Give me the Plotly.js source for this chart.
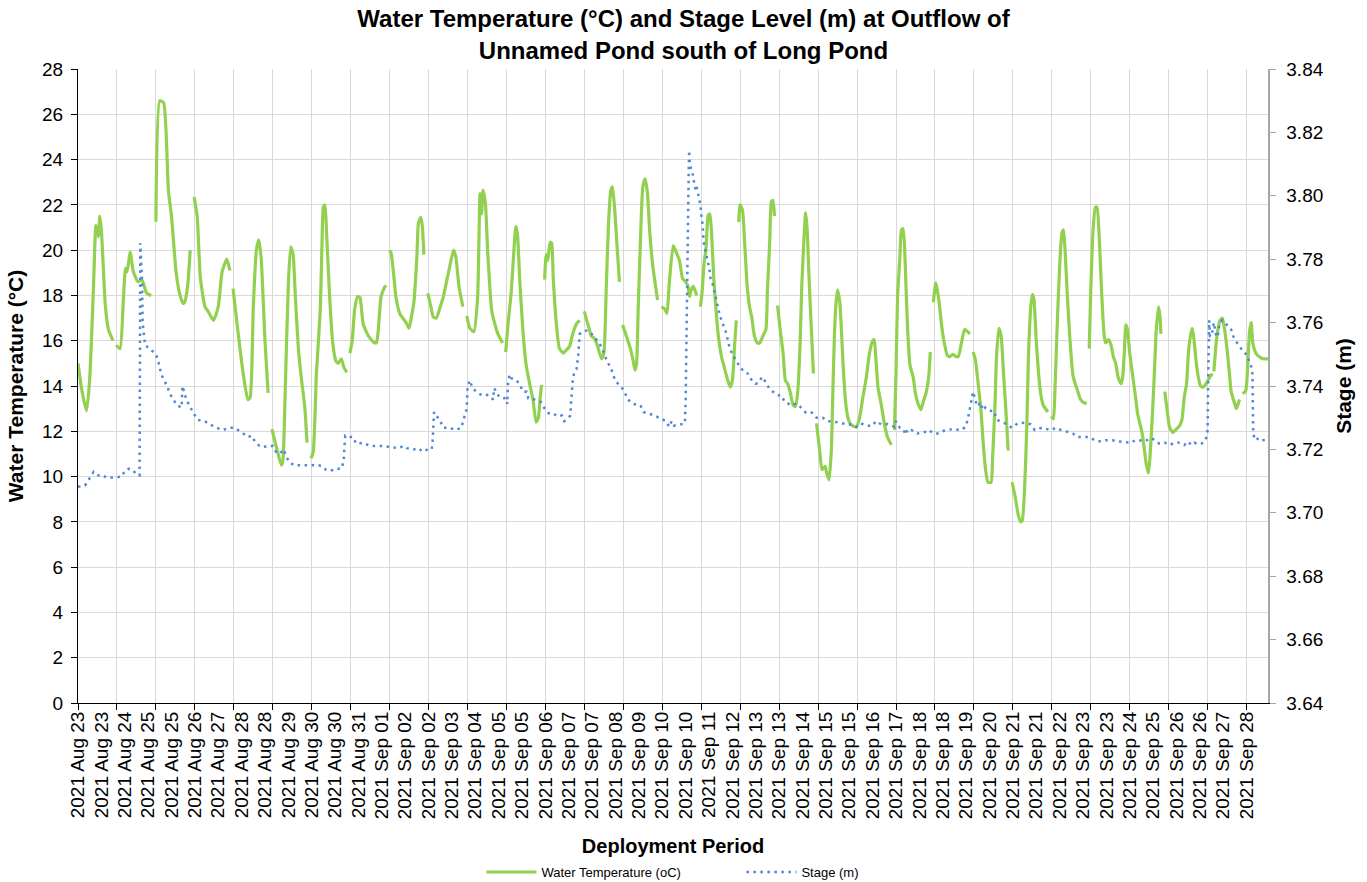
<!DOCTYPE html>
<html>
<head>
<meta charset="utf-8">
<script src="https://cdn.plot.ly/plotly-3.0.1.min.js"></script>
<style>html,body{margin:0;padding:0;background:#fff;}#chart{width:1367px;height:882px;}</style>
</head>
<body>
<div id="chart"></div>
<script>
// Category labels shown under the axis (one every 3 readings)
const xLabels = ["2021 Aug 23","2021 Aug 23","2021 Aug 24","2021 Aug 25","2021 Aug 25","2021 Aug 26","2021 Aug 27","2021 Aug 28","2021 Aug 28","2021 Aug 29","2021 Aug 30","2021 Aug 30","2021 Aug 31",
"2021 Sep 01","2021 Sep 02","2021 Sep 02","2021 Sep 03","2021 Sep 04","2021 Sep 05","2021 Sep 05","2021 Sep 06","2021 Sep 07","2021 Sep 07","2021 Sep 08","2021 Sep 09","2021 Sep 10","2021 Sep 10","2021 Sep 11","2021 Sep 12","2021 Sep 13","2021 Sep 13",
"2021 Sep 14","2021 Sep 15","2021 Sep 15","2021 Sep 16","2021 Sep 17","2021 Sep 18","2021 Sep 18","2021 Sep 19","2021 Sep 20","2021 Sep 21","2021 Sep 21","2021 Sep 22","2021 Sep 23","2021 Sep 23","2021 Sep 24","2021 Sep 25","2021 Sep 26","2021 Sep 26","2021 Sep 27","2021 Sep 28"];

// Water temperature (°C): reading index and value, null = logger gap
const tempObs = [
0,0.5,1.1,1.5,2.0,2.3,2.6,2.8,3.0,3.5,3.9,4.5,null,
4.9,5.4,5.8,6.1,6.3,6.7,7.1,7.7,8.2,8.8,9.4,null,
10.0,10.5,11.0,11.6,12.0,12.6,13.1,13.5,13.7,14.1,14.4,null,
14.9,15.3,15.7,16.3,16.7,17.4,18.0,18.5,19.1,19.5,null,
19.9,20.5,21.2,21.8,22.1,22.5,22.9,23.2,23.5,24.0,24.4,null,
24.9,25.5,26.1,26.3,26.6,27.0,27.3,27.6,27.9,28.3,28.7,29.1,29.4,null,
29.9,30.2,30.6,31.1,31.3,31.5,31.7,31.9,32.3,32.7,33.1,33.4,33.8,34.1,34.5,null,
34.9,35.2,35.5,35.9,36.2,36.6,37.3,37.9,38.3,38.5,38.9,39.2,39.5,null,
40.0,40.2,40.5,40.8,41.3,41.8,42.2,42.5,42.8,43.1,43.5,43.7,44.0,44.2,44.4,null,
44.9,45.3,45.6,46.0,46.5,46.9,47.3,47.7,48.2,48.5,48.9,49.4,null,
49.9,50.3,50.8,51.3,51.6,51.8,52.0,52.3,52.6,53.1,53.5,53.9,54.5,null,
54.9,55.2,55.6,55.9,56.2,56.4,56.7,57.1,57.5,58.0,58.4,58.8,59.1,59.3,59.5,null,
59.9,60.1,60.3,60.6,60.8,61.0,61.4,61.8,62.3,62.7,63.1,63.5,64.0,64.4,null,
65.0,65.3,65.6,65.9,66.3,66.7,67.2,67.5,67.8,68.1,68.4,68.6,68.9,69.2,69.5,null,
69.9,70.4,70.9,71.3,71.5,71.7,71.9,72.2,72.5,72.8,73.1,73.4,73.8,74.1,74.4,null,
74.9,75.3,75.6,75.9,76.4,76.8,77.2,77.6,78.0,78.3,78.5,78.7,79.0,79.4,null,
79.9,80.1,80.4,80.6,80.9,81.1,81.3,81.6,81.9,82.2,82.6,82.9,83.2,83.7,84.0,84.3,84.5,null,
84.8,85.0,85.3,85.6,85.9,86.2,86.5,86.8,87.2,87.5,87.9,88.3,88.5,88.8,89.0,89.2,89.4,null,
89.8,90.1,90.5,90.8,91.1,91.4,91.8,92.1,92.4,92.7,92.9,93.2,93.4,93.6,93.8,94.1,94.4,null,
94.8,95.2,95.5,95.9,96.1,96.4,96.7,96.9,97.1,97.3,97.5,97.8,98.2,98.5,98.8,99.1,99.4,99.9,100.3,100.7,101.2,101.6,102.0,102.2,102.4,102.7,103.1,103.5,103.9,104.4,null,
104.8,105.0,105.2,105.5,105.7,105.9,106.1,106.3,106.5,106.8,107.2,107.5,107.8,108.2,108.5,108.9,109.2,109.4,null,
109.8,110.1,110.3,110.6,110.9,111.2,111.6,111.9,112.3,112.7,113.0,113.4,113.8,114.2,114.5,null,
114.9,115.2,115.5,115.9,116.2,116.5,116.8,117.2,117.4,117.7,117.9,118.2,118.5,118.8,119.1,119.4,null,
119.9,120.3,120.7,121.0,121.2,121.5,121.8,122.0,122.3,122.5,122.7,123.0,123.3,123.6,123.9,124.5,null,
124.9,125.2,125.4,125.7,126.0,126.3,126.5,126.7,127.0,127.3,127.7,128.0,128.3,128.7,129.2,129.5,null,
129.8,130.0,130.3,130.6,130.8,131.1,131.4,131.7,131.9,132.3,132.6,132.9,133.2,133.5,133.9,134.1,134.3,134.5,134.7,135.0,135.4,135.7,136.0,136.3,136.6,136.9,137.1,137.4,137.6,137.9,138.2,138.4,138.7,138.9,139.0,null,
139.5,139.8,140.1,140.5,141.0,141.4,141.7,142.0,142.3,142.5,142.7,143.0,143.2,143.5,143.8,144.1,144.4,144.8,145.3,145.6,null,
145.8,146.1,146.3,146.6,146.9,147.2,147.5,147.8,148.0,148.4,148.7,149.0,149.1,null,
149.5,149.9,150.2,150.4,150.6,150.8,151.2,151.6,152.1,152.8
];
const tempC = [
15.0,13.8,12.9,14.3,18.5,21.1,20.6,21.5,20.9,17.6,16.5,16.0,null,
15.8,15.65,17.65,19.2,19.05,19.9,19.05,18.6,18.7,18.1,18.0,null,
21.25,26.6,26.5,22.65,21.5,19.0,18.0,17.65,17.7,18.5,20.0,null,
22.35,21.5,18.8,17.5,17.3,16.9,17.5,19.05,19.6,19.1,null,
18.3,16.5,14.55,13.4,13.5,17.5,20.0,20.45,19.7,16.0,13.7,null,
12.1,11.25,10.5,10.7,13.8,18.5,20.15,19.85,17.95,15.6,14.25,13.1,11.5,null,
10.8,11.1,14.55,17.35,20.0,21.9,22.0,20.8,17.95,15.9,15.1,15.0,15.2,14.85,14.6,null,
15.45,16.0,17.35,17.95,17.9,16.75,16.2,15.95,15.9,16.3,17.95,18.25,18.45,null,
20.0,19.85,19.0,17.95,17.2,16.95,16.75,16.55,17.05,17.65,19.7,21.2,21.45,21.05,19.8,null,
18.1,17.5,17.05,17.0,17.5,17.95,18.6,19.25,20.0,19.7,18.4,17.5,null,
17.1,16.55,16.4,17.95,22.5,21.6,22.65,22.05,19.85,17.35,16.75,16.3,15.9,null,
15.5,16.75,18.1,19.7,21.05,20.75,18.7,16.5,15.0,14.05,13.4,12.4,12.6,13.4,14.05,null,
18.7,19.8,19.55,20.35,20.3,18.8,16.75,15.65,15.45,15.6,15.75,16.3,16.75,16.9,null,
17.3,16.9,16.55,16.2,16.1,15.75,15.2,15.45,18.25,21.2,22.65,22.8,21.75,20.15,18.6,null,
16.7,16.2,15.65,15.05,14.7,15.0,17.35,20.45,22.8,23.15,22.5,20.75,19.25,18.5,17.8,null,
17.5,17.4,17.2,18.55,20.2,19.9,19.55,18.75,18.6,18.4,17.95,18.25,18.4,18.0,null,
17.5,18.1,19.55,20.0,21.55,21.6,20.9,18.8,17.35,16.2,15.3,14.9,14.5,13.95,14.25,15.9,16.9,null,
21.25,22.0,21.75,20.15,18.4,17.5,17.0,16.25,15.9,15.9,16.2,16.5,18.25,20.45,22.15,22.2,21.5,null,
17.55,16.6,15.45,14.25,14.1,13.75,13.15,13.1,13.8,16.0,18.4,20.6,21.65,20.9,19.1,16.75,14.55,null,
12.35,11.15,10.3,10.45,10.15,9.85,11.15,13.8,16.3,17.65,18.25,17.65,15.0,13.4,12.65,12.35,12.25,12.2,12.55,13.4,14.4,15.45,16.0,16.05,15.3,13.9,13.2,12.35,11.75,11.4,null,
12.05,14.55,17.95,19.7,20.9,20.95,20.15,18.25,16.45,14.9,14.4,13.65,13.25,12.95,13.3,13.75,14.4,15.5,null,
17.7,18.55,18.25,17.5,16.55,15.9,15.35,15.3,15.4,15.3,15.3,15.9,16.5,16.4,16.3,null,
15.5,15.15,14.25,12.95,11.45,10.3,9.75,9.75,10.85,13.1,15.3,16.55,16.2,14.55,12.95,11.15,null,
9.75,9.1,8.3,8.0,8.05,9.4,12.35,15.3,17.5,18.05,17.85,16.0,14.55,13.6,13.15,12.85,null,
12.65,12.55,13.8,16.75,19.25,20.75,20.9,20.0,17.95,16.2,14.5,14.1,13.8,13.4,13.25,13.25,null,
15.65,18.25,20.9,21.9,21.9,20.45,18.1,16.3,15.9,16.05,15.8,15.3,15.0,14.4,14.1,14.4,15.45,16.7,16.5,15.45,14.4,13.65,12.8,12.35,11.9,11.15,10.6,10.15,10.85,12.65,14.85,16.45,17.5,17.05,16.3,null,
13.75,12.95,12.2,11.95,12.1,12.25,12.5,13.5,14.1,15.3,16.0,16.55,16.2,15.15,14.4,14.0,13.95,14.1,14.4,14.55,null,
14.65,15.9,16.45,16.9,17.0,16.45,15.6,14.55,13.8,13.3,13.0,13.3,13.4,null,
13.65,13.8,15.3,16.45,16.8,15.9,15.45,15.3,15.2,15.2
];

// Stage (m): reading index and value
const stageObs = [
0,0.9,2.0,2.6,3.0,3.7,4.5,5.6,6.0,6.5,
7.0,7.5,7.9,8.0,8.2,8.3,8.6,9.2,10.0,10.3,
10.7,11.5,11.8,12.3,12.7,13.3,13.4,13.7,13.9,14.9,
15.4,16.3,16.9,17.8,18.6,19.4,20.1,21.0,21.8,22.3,
22.7,23.3,23.8,24.2,25.0,25.4,25.9,26.4,26.7,27.1,
27.7,28.7,29.3,30.0,30.9,31.4,31.8,32.4,33.0,33.8,
34.1,34.2,34.3,34.7,35.3,35.7,36.6,37.5,38.5,39.4,
40.0,41.1,41.8,42.2,43.1,43.7,44.2,44.9,45.4,45.5,
45.6,45.7,46.0,46.5,46.9,47.7,48.5,49.2,49.9,50.0,
50.3,50.6,51.1,51.8,52.2,52.7,53.3,53.4,53.7,54.1,
55.0,55.1,55.2,55.4,55.6,56.3,56.8,57.1,57.6,57.8,
58.4,58.6,59.4,59.9,60.4,61.0,61.5,62.1,62.4,62.8,
63.2,63.3,63.5,63.7,64.0,64.2,64.3,64.4,64.8,65.3,
65.7,66.2,66.8,67.3,67.6,68.0,68.5,68.9,69.4,70.0,
70.6,71.3,72.2,72.6,73.2,73.7,74.2,74.9,75.5,75.9,
76.2,76.5,77.0,77.4,77.9,78.0,78.1,78.2,78.3,78.4,
78.45,78.5,78.7,79.0,79.1,79.3,79.4,79.9,80.0,80.2,
80.3,80.5,80.7,81.0,81.2,81.5,81.7,81.9,82.3,82.6,
82.9,83.2,83.6,84.1,84.5,84.9,85.6,86.0,86.4,87.0,
87.4,87.8,88.3,88.7,89.2,89.8,90.3,90.7,91.1,91.5,
92.0,92.4,92.8,93.5,94.2,94.8,95.6,96.2,96.9,97.5,
98.2,98.8,99.4,99.9,100.5,101.2,101.7,102.0,102.4,103.1,
103.9,104.8,105.0,105.5,106.0,106.2,106.5,107.0,107.7,108.2,
108.6,109.2,109.9,110.3,110.8,111.3,112.1,112.5,112.9,113.4,
113.9,114.2,114.9,115.2,115.4,115.7,115.9,116.2,116.5,117.2,
117.6,117.8,118.0,118.3,119.0,119.9,120.6,121.5,122.3,122.8,
123.7,124.9,125.5,126.2,126.6,127.2,127.7,128.3,129.2,129.8,
130.5,131.3,131.9,132.8,133.5,134.1,134.7,135.2,135.7,136.2,
136.9,137.7,138.3,138.8,139.5,140.1,140.8,141.2,142.0,142.5,
142.9,143.3,143.9,144.5,144.8,145.0,145.05,145.1,145.2,145.3,
145.5,145.8,146.1,146.3,146.5,146.9,147.4,148.0,148.3,148.7,
149.5,150.1,150.4,150.6,150.75,150.85,151.1,151.6,152.0,152.5
];
const stageM = [
3.7082,3.7086,3.7129,3.7118,3.7120,3.7111,3.7111,3.7114,3.7132,3.7139,
3.7136,3.7121,3.7118,3.7850,3.7743,3.7600,3.7529,3.7518,3.7500,3.7479,
3.7436,3.7396,3.7375,3.7357,3.7339,3.7332,3.7400,3.7375,3.7357,3.7311,
3.7293,3.7289,3.7279,3.7268,3.7261,3.7268,3.7268,3.7254,3.7239,3.7243,
3.7225,3.7211,3.7207,3.7210,3.7211,3.7193,3.7186,3.7200,3.7179,3.7161,
3.7150,3.7150,3.7150,3.7150,3.7150,3.7146,3.7136,3.7132,3.7139,3.7139,
3.7161,3.7207,3.7243,3.7239,3.7239,3.7218,3.7221,3.7211,3.7211,3.7211,
3.7207,3.7204,3.7211,3.7204,3.7200,3.7204,3.7193,3.7200,3.7200,3.7218,
3.7264,3.7318,3.7307,3.7289,3.7268,3.7268,3.7261,3.7268,3.7329,3.7396,
3.7418,3.7396,3.7382,3.7371,3.7373,3.7371,3.7357,3.7393,3.7382,3.7364,
3.7361,3.7343,3.7407,3.7436,3.7425,3.7418,3.7400,3.7382,3.7382,3.7361,
3.7359,3.7357,3.7350,3.7329,3.7314,3.7314,3.7304,3.7307,3.7289,3.7296,
3.7307,3.7350,3.7418,3.7443,3.7454,3.7493,3.7536,3.7564,3.7571,3.7575,
3.7571,3.7557,3.7539,3.7518,3.7496,3.7475,3.7450,3.7421,3.7404,3.7389,
3.7357,3.7343,3.7339,3.7318,3.7311,3.7310,3.7304,3.7296,3.7289,3.7271,
3.7289,3.7275,3.7279,3.7279,3.7282,3.7350,3.7493,3.7704,3.7914,3.8093,
3.8143,3.8114,3.8082,3.8061,3.8036,3.8018,3.8029,3.7971,3.7943,3.7904,
3.7854,3.7832,3.7807,3.7775,3.7739,3.7718,3.7696,3.7671,3.7632,3.7607,
3.7586,3.7568,3.7525,3.7493,3.7482,3.7461,3.7443,3.7439,3.7421,3.7407,
3.7411,3.7429,3.7411,3.7393,3.7382,3.7371,3.7370,3.7350,3.7346,3.7339,
3.7343,3.7343,3.7332,3.7314,3.7316,3.7300,3.7300,3.7289,3.7288,3.7286,
3.7282,3.7279,3.7278,3.7271,3.7282,3.7275,3.7275,3.7275,3.7289,3.7279,
3.7280,3.7271,3.7289,3.7268,3.7261,3.7246,3.7264,3.7261,3.7250,3.7252,
3.7254,3.7261,3.7250,3.7250,3.7254,3.7261,3.7264,3.7264,3.7262,3.7261,
3.7271,3.7293,3.7382,3.7357,3.7336,3.7343,3.7329,3.7343,3.7329,3.7321,
3.7321,3.7304,3.7293,3.7289,3.7282,3.7268,3.7282,3.7284,3.7279,3.7261,
3.7268,3.7261,3.7268,3.7261,3.7259,3.7254,3.7250,3.7239,3.7239,3.7239,
3.7229,3.7225,3.7229,3.7229,3.7225,3.7223,3.7221,3.7221,3.7229,3.7229,
3.7225,3.7236,3.7229,3.7218,3.7221,3.7214,3.7221,3.7222,3.7214,3.7225,
3.7214,3.7221,3.7216,3.7221,3.7236,3.7261,3.7389,3.7493,3.7607,3.7557,
3.7557,3.7600,3.7557,3.7554,3.7596,3.7607,3.7593,3.7579,3.7557,3.7539,
3.7511,3.7496,3.7471,3.7461,3.7439,3.7250,3.7229,3.7236,3.7229,3.7230
];

const labelEvery = 3;   // one axis label every 3 readings
const gridEvery = 5;    // one tick/gridline every 5 readings
const xMax = 152.75;

const FONT = '"Liberation Sans", Arial, Helvetica, sans-serif';

const traces = [
  {
    x: tempObs, y: tempC, name: 'Water Temperature (oC)',
    type: 'scatter', mode: 'lines', connectgaps: false,
    line: {color: '#92D050', width: 3.2, shape: 'spline', smoothing: 0.5},
    xaxis: 'x', yaxis: 'y', hoverinfo: 'skip'
  },
  {
    x: stageObs, y: stageM, name: 'Stage (m)',
    type: 'scatter', mode: 'lines',
    line: {color: '#4F88D8', width: 2.5, dash: '2.5px,4.5px'},
    xaxis: 'x2', yaxis: 'y2', hoverinfo: 'skip'
  }
];

const layout = {
  width: 1367, height: 882,
  margin: {l: 78, r: 99, t: 69, b: 179, autoexpand: false},
  paper_bgcolor: '#ffffff', plot_bgcolor: '#ffffff',
  font: {family: FONT, color: '#000000', size: 19},
  title: {
    text: '<b>Water Temperature (°C) and Stage Level (m) at Outflow of<br>Unnamed Pond south of Long Pond</b>',
    x: 0.5, xref: 'container', xanchor: 'center',
    y: 0.969, yref: 'container', yanchor: 'top',
    font: {family: FONT, size: 24, color: '#000'}
  },
  xaxis: {
    range: [0, xMax], tickmode: 'array',
    tickvals: xLabels.map((_, i) => i * labelEvery), ticktext: xLabels,
    tickangle: -90, ticks: '', showgrid: false, zeroline: false,
    showline: true, linecolor: '#000', linewidth: 1,
    tickfont: {family: FONT, size: 19, color: '#000'},
    title: {text: '<b>Deployment Period</b>', font: {family: FONT, size: 20, color: '#000'}, standoff: 22},
    automargin: false, fixedrange: true
  },
  xaxis2: {
    overlaying: 'x', anchor: 'y', side: 'bottom',
    range: [0, xMax], tickmode: 'linear', tick0: 0, dtick: gridEvery,
    ticks: 'outside', ticklen: 6, tickcolor: '#000', tickwidth: 1,
    showticklabels: false, showgrid: true, gridcolor: '#d9d9d9', gridwidth: 1,
    zeroline: false, showline: false, automargin: false, fixedrange: true
  },
  yaxis: {
    range: [0, 28], tickmode: 'linear', tick0: 0, dtick: 2,
    ticks: 'outside', ticklen: 6, tickcolor: '#000',
    showline: true, linecolor: '#000', linewidth: 1,
    showgrid: true, gridcolor: '#d9d9d9', gridwidth: 1, zeroline: false,
    tickfont: {family: FONT, size: 19, color: '#000'}, ticklabelstandoff: 4,
    title: {text: '<b>Water Temperature (°C)</b>', font: {family: FONT, size: 21, color: '#000'}, standoff: 12},
    automargin: false, fixedrange: true
  },
  yaxis2: {
    overlaying: 'y', side: 'right', anchor: 'x2',
    range: [3.64, 3.84], tickmode: 'linear', tick0: 3.64, dtick: 0.02, tickformat: '.2f',
    ticks: 'outside', ticklen: 6, tickcolor: '#a6a6a6',
    showline: true, linecolor: '#a6a6a6', linewidth: 1.5,
    showgrid: false, zeroline: false,
    tickfont: {family: FONT, size: 19, color: '#000'}, ticklabelstandoff: 7,
    title: {text: '<b>Stage (m)</b>', font: {family: FONT, size: 21, color: '#000'}, standoff: 13},
    automargin: false, fixedrange: true
  },
  showlegend: true,
  legend: {
    orientation: 'h', x: 0.339, xanchor: 'left', xref: 'paper',
    y: 0.0113, yanchor: 'middle', yref: 'container',
    font: {family: FONT, size: 13, color: '#000'},
    bgcolor: 'rgba(0,0,0,0)', itemwidth: 50,
    entrywidth: 195, entrywidthmode: 'pixels'
  }
};

Plotly.newPlot('chart', traces, layout, {displayModeBar: false, staticPlot: true});
</script>
</body>
</html>
